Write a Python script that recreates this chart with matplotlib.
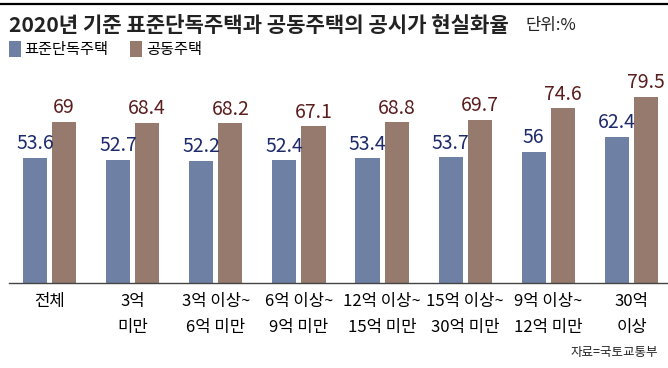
import matplotlib
matplotlib.use('Agg')
import matplotlib.pyplot as plt
import numpy as np

plt.rcParams['font.family'] = ['Noto Sans CJK KR', 'DejaVu Sans']

categories = ['전체', '3억\n미만', '3억 이상~\n6억 미만', '6억 이상~\n9억 미만',
              '12억 이상~\n15억 미만', '15억 이상~\n30억 미만', '9억 이상~\n12억 미만', '30억\n이상']
standalone = [53.6, 52.7, 52.2, 52.4, 53.4, 53.7, 56, 62.4]
apartment = [69, 68.4, 68.2, 67.1, 68.8, 69.7, 74.6, 79.5]
series_names = ['표준단독주택', '공동주택']

blue = '#6f80a5'
brown = '#957a6d'
blue_txt = '#1d2b6b'
brown_txt = '#5a1e1e'

fig = plt.figure(figsize=(6.68, 3.68), dpi=100)
ax = fig.add_axes([0.0135, 0.231, 0.9865, 0.606])

xpos = np.arange(len(categories))
width = 0.29
off = 0.175
b1 = ax.bar(xpos - off, standalone, width, color=blue, label=series_names[0])
b2 = ax.bar(xpos + off, apartment, width, color=brown, label=series_names[1])

for x, v in zip(xpos, standalone):
    ax.annotate(f'{v:g}', (x - off, v), xytext=(0, 2.5), textcoords='offset points',
                ha='center', va='bottom', fontsize=14, color=blue_txt)
for x, v in zip(xpos, apartment):
    ax.annotate(f'{v:g}', (x + off, v), xytext=(0, 2.5), textcoords='offset points',
                ha='center', va='bottom', fontsize=14, color=brown_txt)

ax.set_xlim(-0.487, 7.439)
ax.set_ylim(0, 95.3)
ax.set_yticks([])
ax.set_xticks(xpos)
ax.set_xticklabels(categories, fontsize=12, linespacing=1.75)
ax.tick_params(axis='x', length=0, pad=7)
for s in ['top', 'right', 'left']:
    ax.spines[s].set_visible(False)
ax.spines['bottom'].set_color('#444444')
ax.spines['bottom'].set_linewidth(1.0)

# top rule
fig.add_artist(plt.Line2D([0, 1], [0.989, 0.989], color='black', lw=1.6))

fig.text(0.013, 0.932, '2020년 기준 표준단독주택과 공동주택의 공시가 현실화율',
         fontsize=15.2, fontweight='bold', va='center', ha='left', color='#222222')
fig.text(0.787, 0.930, '단위:%', fontsize=12, va='center', ha='left', color='#222222')

fig.legend(handles=[b1, b2], loc='center left', bbox_to_anchor=(0.013, 0.866),
           ncol=2, frameon=False, fontsize=11, handlelength=0.8, handleheight=1.3,
           handletextpad=0.25, columnspacing=1.4, borderpad=0, borderaxespad=0)

fig.text(0.985, 0.043, '자료=국토교통부', fontsize=9, ha='right', va='center', color='#222222')

fig.savefig('out.png', dpi=100)
